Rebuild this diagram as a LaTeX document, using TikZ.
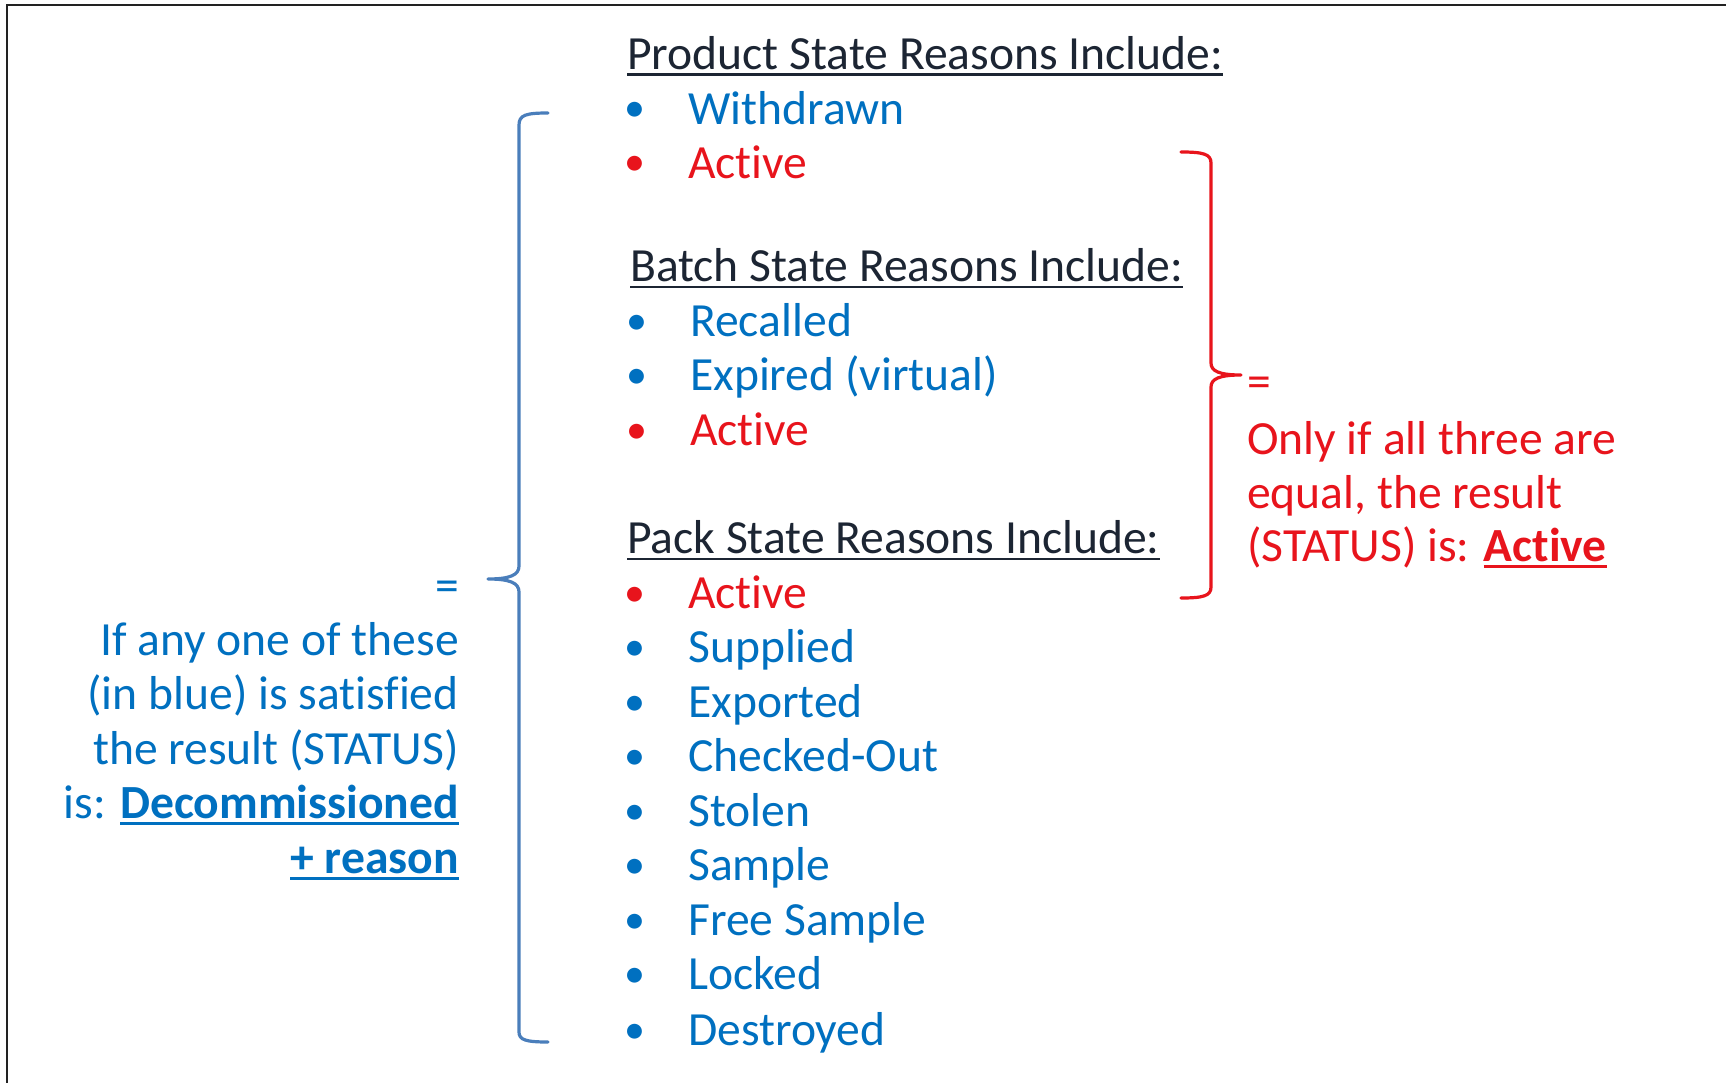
\documentclass[tikz,border=0pt]{standalone}
\usepackage{fontspec}
\setmainfont{Carlito}[Ligatures={NoCommon}]
\newsavebox{\myulbox}
\newcommand{\myul}[1]{\sbox{\myulbox}{#1}\rlap{\rule[-6.5pt]{\wd\myulbox}{2.4pt}}\usebox{\myulbox}}
\definecolor{hdr}{HTML}{1C2533}
\definecolor{txtblue}{HTML}{0070C0}
\definecolor{txtred}{HTML}{E8141C}
\definecolor{brblue}{HTML}{4A7EBB}
\definecolor{frame}{HTML}{222222}
\begin{document}
\begin{tikzpicture}[x=1pt,y=-1pt,
  base/.style={inner sep=0pt, font=\fontsize{47.6}{56}\selectfont},
  hd/.style={base, anchor=base west, text=hdr},
  bul/.style={base, anchor=base, font=\fontsize{42}{50}\selectfont},
  itemtxt/.style={base, anchor=base west},
  lefttxt/.style={base, anchor=base east, text=txtblue},
  righttxt/.style={base, anchor=base west, text=txtred},
  bl/.style={text=txtblue},
  rd/.style={text=txtred},
  brace/.style={line width=3.2pt, line cap=round, line join=round}
]
\useasboundingbox (0,0) rectangle (1726,1083);
\fill[white] (0,0) rectangle (1726,1083);
% frame (top and left only)
\draw[frame, line width=2.6pt] (7,1083) -- (7,5) -- (1726,5);

% Product
\node[hd] (h1) at (627,69.4) {\myul{Product State Reasons Include:}};
\node[bul,bl] (p1b) at (635,122) {•};
\node[itemtxt,bl] (p1) at (688,124.4) {Withdrawn};
\node[bul,rd] (p2b) at (635,176) {•};
\node[itemtxt,rd] (p2) at (688,178.3) {Active};

% Batch
\node[hd] (h2) at (630,281.8) {\myul{Batch State Reasons Include:}};
\node[bul,bl] (b1b) at (637,334.5) {•};
\node[itemtxt,bl] (b1) at (690,336.8) {Recalled};
\node[bul,bl] (b2b) at (637,388.5) {•};
\node[itemtxt,bl] (b2) at (690,390.8) {Expired (virtual)};
\node[bul,rd] (b3b) at (637,443.5) {•};
\node[itemtxt,rd] (b3) at (690,445.8) {Active};

% Pack
\node[hd] (h3) at (627,553.7) {\myul{Pack State Reasons Include:}};
\node[bul,rd] (k1b) at (635,606.4) {•};
\node[itemtxt,rd] (k1) at (688,608.7) {Active};
\node[bul,bl] (k2b) at (635,660.4) {•};
\node[itemtxt,bl] (k2) at (688,662.7) {Supplied};
\node[bul,bl] (k3b) at (635,715.4) {•};
\node[itemtxt,bl] (k3) at (688,717.7) {Exported};
\node[bul,bl] (k4b) at (635,769.4) {•};
\node[itemtxt,bl] (k4) at (688,771.7) {Checked-Out};
\node[bul,bl] (k5b) at (635,824.4) {•};
\node[itemtxt,bl] (k5) at (688,826.7) {Stolen};
\node[bul,bl] (k6b) at (635,878.3) {•};
\node[itemtxt,bl] (k6) at (688,880.6) {Sample};
\node[bul,bl] (k7b) at (635,933.4) {•};
\node[itemtxt,bl] (k7) at (688,935.7) {Free Sample};
\node[bul,bl] (k8b) at (635,987.3) {•};
\node[itemtxt,bl] (k8) at (688,989.6) {Locked};
\node[bul,bl] (k9b) at (635,1043.5) {•};
\node[itemtxt,bl] (k9) at (688,1045.8) {Destroyed};

% Left explanation
\node[lefttxt] (l0) at (459,601) {=};
\node[lefttxt] (l1) at (459,655) {If any one of these};
\node[lefttxt] (l2) at (459,709) {(in blue) is satisfied};
\node[lefttxt] (l3) at (459,764) {the result (STATUS)};
\node[lefttxt] (l4) at (459,818) {is: \textbf{\myul{Decommissioned}}};
\node[lefttxt] (l5) at (459,873) {\textbf{\myul{+ reason}}};

% Right explanation
\node[righttxt] (r0) at (1247,397) {=};
\node[righttxt] (r1) at (1247,454) {Only if all three are};
\node[righttxt] (r2) at (1247,508) {equal, the result};
\node[righttxt] (r3) at (1247,561) {(STATUS) is: \textbf{\myul{Active}}};

% Blue left brace
\coordinate (bt) at (548,113);
\coordinate (bm) at (488,579);
\coordinate (bb) at (548,1042);
\draw[brace, brblue] (bt) .. controls (526,113) and (519,115) .. (519,125)
  -- (519,566) .. controls (519,575) and (510,579) .. (bm)
  .. controls (510,579) and (519,583) .. (519,592)
  -- (519,1032) .. controls (519,1040) and (526,1042) .. (bb);

% Red right brace
\coordinate (rt) at (1181,152);
\coordinate (rm) at (1241,375);
\coordinate (rb) at (1181,598);
\draw[brace, txtred] (rt) .. controls (1203,152) and (1211,154) .. (1211,163)
  -- (1211,363) .. controls (1211,371) and (1219,375) .. (rm)
  .. controls (1219,375) and (1211,379) .. (1211,387)
  -- (1211,587) .. controls (1211,596) and (1203,598) .. (rb);
\end{tikzpicture}
\end{document}
